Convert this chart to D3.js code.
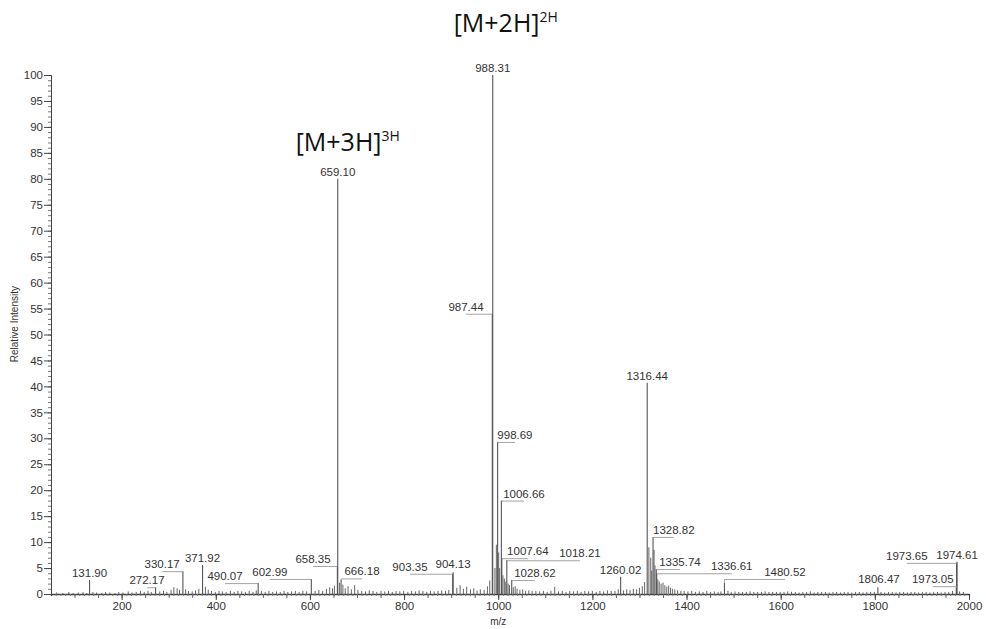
<!DOCTYPE html>
<html><head><meta charset="utf-8">
<script src="https://cdn.jsdelivr.net/npm/d3@7"></script>
<style>
body{margin:0;background:#fff;}
svg{display:block;}
</style></head>
<body>
<svg id="chart" width="986" height="629"></svg>
<script>
// ---- data ----
const peakLabels = ["131.90","272.17","330.17","371.92","490.07","602.99","658.35","659.10","666.18","903.35","904.13","987.44","988.31","998.69","1006.66","1007.64","1018.21","1028.62","1260.02","1316.44","1328.82","1335.74","1336.61","1480.52","1806.47","1973.05","1973.65","1974.61"];
const peakMz = [131.90,272.17,330.17,371.92,490.07,602.99,658.35,659.10,666.18,903.35,904.13,987.44,988.31,998.69,1006.66,1007.64,1018.21,1028.62,1260.02,1316.44,1328.82,1335.74,1336.61,1480.52,1806.47,1973.05,1973.65,1974.61];
const peakIntensity = [2.7,1.3,4.4,5.6,2.1,2.9,5.4,80.0,2.8,3.9,4.2,54.0,100.0,29.3,18.0,6.9,6.5,2.7,3.3,40.7,11.0,4.8,4.0,2.1,1.3,1.2,6.0,6.2];
// label anchor (m/z of label centre) and leader level (relative intensity)
const labelMz = [131.9,254,286,371.9,419.6,515,606.5,659.1,710.6,812.5,904.1,931.5,988.3,1035.5,1054.7,1063,1173.6,1078,1260.0,1316.4,1373,1386,1496,1609,1808.7,1923,1868,1974.6];
const labelLevel = [2.7,1.3,4.4,5.6,2.1,2.9,5.4,80.0,3.0,3.9,4.4,54.0,100.0,29.3,18.0,6.9,6.5,2.7,3.3,40.7,11.0,4.8,4.0,2.9,1.5,1.5,6.0,6.2];
const noisePeaks = [[62,0.3],[75,0.2],[88,0.4],[97,0.2],[108,0.3],[118,0.4],[126,0.2],[139,0.4],[147,0.3],[158,0.2],[166,0.4],[175,0.3],[186,0.2],[194,0.4],[203,0.3],[214,0.5],[222,0.3],[231,0.4],[240,0.6],[248,0.4],[256,0.6],[263,0.4],[281,0.5],[289,0.6],[296,0.4],[305,0.8],[311,1.3],[318,1.1],[323,0.8],[336,0.9],[342,0.6],[350,0.5],[357,0.7],[364,1.0],[378,1.4],[384,0.8],[391,0.6],[399,0.4],[407,0.6],[414,0.5],[422,0.4],[431,0.6],[439,0.4],[447,0.6],[455,0.5],[463,0.4],[471,0.6],[479,0.4],[486,0.7],[497,0.6],[505,0.4],[513,0.6],[521,0.4],[529,0.5],[537,0.4],[545,0.6],[553,0.4],[561,0.5],[569,0.6],[577,0.4],[585,0.6],[593,0.5],[611,0.6],[619,0.8],[627,0.6],[635,1.0],[642,1.3],[648,1.1],[652,1.6],[663,2.2],[670,1.8],[675,1.1],[681,1.5],[688,0.9],[695,1.7],[702,0.8],[710,0.6],[718,0.5],[726,0.7],[734,0.6],[742,0.4],[751,0.6],[759,0.5],[767,0.6],[775,0.4],[783,0.6],[791,0.5],[799,0.6],[808,0.4],[816,0.6],[824,0.5],[832,0.7],[840,0.6],[848,0.4],[856,0.6],[864,0.5],[872,0.6],[880,0.7],[888,0.6],[895,0.8],[912,1.2],[919,1.7],[926,1.0],[933,1.4],[941,0.9],[948,1.1],[955,0.7],[962,0.9],[970,0.8],[977,1.5],[982,2.6],[993,5.0],[996,9.5],[1001,8.0],[1003,5.0],[1010,3.6],[1013,3.0],[1016,2.4],[1021,2.0],[1024,1.7],[1032,1.3],[1036,1.5],[1040,1.0],[1046,0.8],[1052,0.9],[1058,0.6],[1065,0.7],[1072,0.6],[1080,0.6],[1088,0.5],[1096,0.6],[1104,0.4],[1112,0.6],[1120,1.4],[1128,0.5],[1136,0.6],[1144,0.4],[1152,0.6],[1160,0.5],[1168,0.6],[1176,0.4],[1184,0.6],[1192,0.5],[1200,0.6],[1208,0.4],[1216,0.6],[1224,0.5],[1232,0.7],[1240,0.6],[1248,0.6],[1255,0.9],[1266,0.7],[1273,0.9],[1280,0.8],[1287,1.0],[1294,0.9],[1300,1.2],[1306,1.5],[1311,2.3],[1320,9.0],[1324,7.0],[1326,4.5],[1331,8.5],[1333,5.5],[1339,2.8],[1342,2.4],[1346,2.0],[1350,2.2],[1354,1.7],[1358,1.4],[1362,1.6],[1366,1.2],[1370,1.0],[1375,0.9],[1381,0.7],[1388,0.6],[1395,0.6],[1403,0.5],[1411,0.6],[1419,0.4],[1427,0.5],[1435,0.4],[1443,0.6],[1451,0.4],[1459,0.5],[1467,0.4],[1473,0.5],[1488,0.6],[1495,0.4],[1503,0.5],[1511,0.4],[1519,0.4],[1527,0.4],[1535,0.5],[1543,0.4],[1551,0.4],[1559,0.4],[1567,0.5],[1575,0.4],[1583,0.4],[1591,0.4],[1599,0.4],[1607,0.4],[1615,0.5],[1623,0.4],[1631,0.4],[1639,0.3],[1647,0.4],[1655,0.4],[1663,0.5],[1671,0.3],[1679,0.4],[1687,0.4],[1695,0.4],[1703,0.3],[1711,0.4],[1719,0.4],[1727,0.3],[1735,0.4],[1743,0.4],[1751,0.3],[1759,0.4],[1767,0.4],[1775,0.3],[1783,0.4],[1791,0.4],[1799,0.4],[1813,0.4],[1821,0.3],[1829,0.4],[1837,0.4],[1845,0.3],[1853,0.4],[1861,0.4],[1869,0.3],[1877,0.4],[1885,0.4],[1893,0.3],[1901,0.4],[1909,0.4],[1917,0.3],[1925,0.4],[1933,0.4],[1941,0.3],[1949,0.4],[1957,0.4],[1965,0.6],[1980,0.5],[1988,0.4]];
const xMajorTicks = [200,400,600,800,1000,1200,1400,1600,1800,2000];
const yMajorTicks = [0,5,10,15,20,25,30,35,40,45,50,55,60,65,70,75,80,85,90,95,100];
const ionTitles = [{base:"[M+2H]", sup:"2H", mz:988.31, level:100}, {base:"[M+3H]", sup:"3H", mz:659.10, level:80}];

// ---- chart ----
const svg = d3.select("#chart");
const x = d3.scaleLinear().domain([50,2000]).range([51,969]);
const y = d3.scaleLinear().domain([0,100]).range([594,75]);
const FONT = "'Liberation Sans', Arial, sans-serif";
const ink = "#444";

// y axis
const yAxisMinor = d3.axisLeft(y).tickValues(d3.range(0,101,1)).tickSize(3).tickFormat("");
svg.append("g").attr("transform","translate(51,0)").call(yAxisMinor)
  .call(g=>{g.select(".domain").attr("stroke",ink); g.selectAll("line").attr("stroke","#777");});
const yAxis = d3.axisLeft(y).tickValues(yMajorTicks).tickSize(7).tickPadding(1).tickFormat(d3.format("d"));
svg.append("g").attr("transform","translate(51,0)").call(yAxis)
  .call(g=>{g.select(".domain").remove(); g.selectAll("line").attr("stroke",ink);
    g.selectAll("text").attr("font-family",FONT).attr("font-size",11.5).attr("fill","#333");});

// x axis
const xAxisMinor = d3.axisBottom(x).tickValues(d3.range(60,2001,10)).tickSize(2).tickFormat("");
svg.append("g").attr("transform","translate(0,594)").call(xAxisMinor)
  .call(g=>{g.select(".domain").attr("stroke",ink).attr("stroke-width",1.3); g.selectAll("line").attr("stroke","#777");});
const xAxisMid = d3.axisBottom(x).tickValues(d3.range(100,2001,50)).tickSize(4).tickFormat("");
svg.append("g").attr("transform","translate(0,594)").call(xAxisMid)
  .call(g=>{g.select(".domain").remove(); g.selectAll("line").attr("stroke","#666");});
const xAxis = d3.axisBottom(x).tickValues(xMajorTicks).tickSize(6).tickPadding(2).tickFormat(d3.format("d"));
svg.append("g").attr("transform","translate(0,594)").call(xAxis)
  .call(g=>{g.select(".domain").remove(); g.selectAll("line").attr("stroke",ink);
    g.selectAll("text").attr("font-family",FONT).attr("font-size",11.5).attr("fill","#333");});

// axis titles
svg.append("text").attr("x",x(1000)).attr("y",625).attr("text-anchor","middle")
  .attr("font-family",FONT).attr("font-size",10).attr("fill","#333").text("m/z");
svg.append("text").attr("transform","translate(18,"+y(52)+") rotate(-90)").attr("text-anchor","middle")
  .attr("font-family",FONT).attr("font-size",10).attr("fill","#333").text("Relative Intensity");

// noise / unlabelled peaks
svg.append("g").selectAll("line").data(noisePeaks).join("line")
  .attr("x1",d=>x(d[0])).attr("x2",d=>x(d[0])).attr("y1",y(0)).attr("y2",d=>y(d[1]))
  .attr("stroke","#666").attr("stroke-width",1);

// labelled peaks
const peaks = peakMz.map((m,i)=>({mz:m, v:peakIntensity[i], label:peakLabels[i], lmz:labelMz[i], lv:labelLevel[i]}));
svg.append("g").selectAll("line").data(peaks).join("line")
  .attr("x1",d=>x(d.mz)).attr("x2",d=>x(d.mz)).attr("y1",y(0)).attr("y2",d=>y(d.v))
  .attr("stroke","#555").attr("stroke-width",1.1);

// leaders
svg.append("g").selectAll("path").data(peaks.filter(d=>Math.abs(x(d.lmz)-x(d.mz))>3)).join("path")
  .attr("d",d=>{
    const ly = y(d.lv)+0.5;
    return "M"+x(d.lmz)+","+ly+"L"+x(d.mz)+","+ly+"L"+x(d.mz)+","+Math.max(ly,y(d.v));
  })
  .attr("fill","none").attr("stroke","#999").attr("stroke-width",0.9);

// peak labels
svg.append("g").selectAll("text").data(peaks).join("text")
  .attr("x",d=>x(d.lmz)).attr("y",d=>y(d.lv)-3).attr("text-anchor","middle")
  .attr("font-family",FONT).attr("font-size",11.5).attr("fill","#333").text(d=>d.label);

// ion annotations
const ionPos = [{dx:13, dy:-43},{dx:10, dy:-28}];
ionTitles.forEach((t,i)=>{
  const tx = svg.append("text").attr("x",x(t.mz)+ionPos[i].dx).attr("y",y(t.level)+ionPos[i].dy)
    .attr("text-anchor","middle").attr("font-family","'Open Sans', sans-serif").attr("font-size",25).attr("fill","#111");
  tx.append("tspan").text(t.base);
  tx.append("tspan").attr("font-size",14).attr("dy",-10).text(t.sup);
});
</script>
</body></html>
